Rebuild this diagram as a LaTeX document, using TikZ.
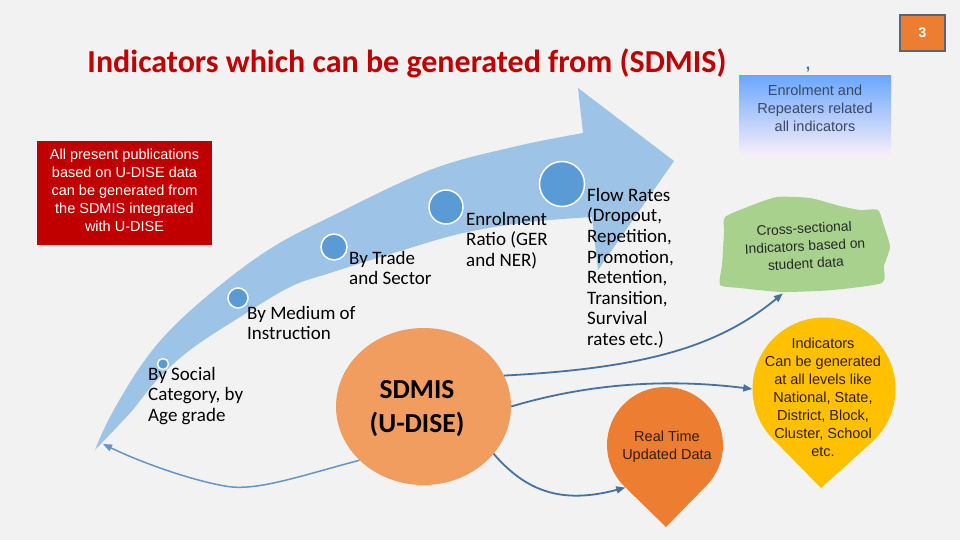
\documentclass[tikz,border=0pt]{standalone}
\usepackage{fontspec}
\setmainfont{Carlito}
\newfontfamily\arial{Liberation Sans}
\usetikzlibrary{shapes.geometric,arrows.meta,calc}
\definecolor{bg}{RGB}{242,242,242}
\definecolor{titlered}{RGB}{192,0,0}
\definecolor{boxred}{RGB}{192,0,0}
\definecolor{bandblue}{RGB}{157,195,230}
\definecolor{dotblue}{RGB}{91,155,213}
\definecolor{connblue}{RGB}{70,114,158}
\definecolor{connlight}{RGB}{100,148,200}
\definecolor{sdorange}{RGB}{240,157,95}
\definecolor{rtorange}{RGB}{237,125,49}
\definecolor{ylgold}{RGB}{255,192,0}
\definecolor{csgreen}{RGB}{169,209,142}
\definecolor{enrtop}{RGB}{106,168,255}
\definecolor{enrmid}{RGB}{180,202,232}
\definecolor{enrbot}{RGB}{248,238,248}
\definecolor{enrtext}{RGB}{60,72,95}
\definecolor{pgborder}{RGB}{90,100,115}
\definecolor{darktext}{RGB}{50,30,10}
\begin{document}
\begin{tikzpicture}[x=1pt,y=-1pt,
  lbl/.style={anchor=north west, align=left, inner sep=0, font=\fontsize{19}{20.6}\selectfont},
  dot/.style={circle, fill=dotblue, draw=white, line width=1.5pt, inner sep=0},
  conn/.style={draw=connblue, line width=1.8pt, -{Triangle[length=9pt,width=7pt]}},
  aria/.style={font=\arial\fontsize{14.5}{18}\selectfont, align=center, inner sep=0}]
\useasboundingbox (0,0) rectangle (960,540);
\fill[bg] (0,0) rectangle (960,540);

% title
\node[anchor=base, inner sep=0, text=titlered, font=\bfseries\fontsize{32}{38}\selectfont] (title) at (407,73) {Indicators which can be generated from (SDMIS)};

% page number
\node[draw=pgborder, line width=2pt, fill=rtorange, minimum width=45, minimum height=36, inner sep=0, text=white, font=\arial\bfseries\fontsize{14}{16}\selectfont] (pg) at (922.5,33) {3};

% stray comma
\node[inner sep=0, text=connblue, font=\arial\bfseries\fontsize{16}{18}\selectfont] (comma) at (808,70) {,};

% enrolment box
\shade[top color=enrtop, middle color=enrmid, bottom color=enrbot] (739,76) rectangle (891,155);
\node[aria, text=enrtext] (enr) at (815,108) {Enrolment and\\Repeaters related\\all indicators};

% red box
\node[fill=boxred, minimum width=175, minimum height=104, inner sep=0] (pubbox) at (124.5,193) {};
\node[aria, text=white] (pub) at (124.5,190) {All present publications\\based on U-DISE data\\can be generated from\\the SDMIS integrated\\with U-DISE};

% big curved arrow
\fill[bandblue] plot[smooth, tension=0.6] coordinates {(95,450) (110,417) (140,367) (173,327) (223,283) (273,247) (330,217) (430,170) (513,147) (583,133)}
  -- (578,88) -- (674,161) -- (598,270) -- (592,217)
  -- plot[smooth, tension=0.6] coordinates {(592,217) (530,222) (463,233) (397,252) (330,273) (290,287) (240,317) (190,350) (157,380) (130,413) (95,450)} -- cycle;

% dots
\node[dot, minimum size=11] (d1) at (163,364) {};
\node[dot, minimum size=20] (d2) at (238,298) {};
\node[dot, minimum size=26] (d3) at (334,247) {};
\node[dot, minimum size=34] (d4) at (446,207) {};
\node[dot, minimum size=45] (d5) at (562,184) {};

% labels
\node[lbl] (l1) at (148,367) {By Social\\Category, by\\Age grade};
\node[lbl] (l2) at (247,306) {By Medium of\\Instruction};
\node[lbl] (l3) at (349,251) {By Trade\\and Sector};
\node[lbl] (l4) at (466,212) {Enrolment\\Ratio (GER\\and NER)};
\node[lbl] (l5) at (587,188) {Flow Rates\\(Dropout,\\Repetition,\\Promotion,\\Retention,\\Transition,\\Survival\\rates etc.)};

% SDMIS
\node[ellipse, fill=sdorange, minimum width=175, minimum height=157, inner sep=0] (sd) at (423.5,406.5) {};
\node[inner sep=0, align=center, font=\bfseries\fontsize{27.5}{34}\selectfont] (sdt) at (417,408.5) {SDMIS\\(U-DISE)};

% real time teardrop
\fill[rtorange] (666,527) -- ($(665,445)+(44.3:58)$) arc[start angle=44.3, end angle=-225.7, radius=58] -- cycle;
\node[circle, minimum size=116, inner sep=0] (rt) at (665,445) {};
\node[aria, text=darktext] (rtt) at (667,447) {Real Time\\Updated Data};

% yellow teardrop
\fill[ylgold] (821,488) -- ($(824,389)+(47.9:71.5)$) arc[start angle=47.9, end angle=-224.5, radius=71.5] -- cycle;
\node[circle, minimum size=143, inner sep=0] (yl) at (824,389) {};
\node[aria, text=darktext] (ylt) at (823,397) {Indicators\\Can be generated\\at all levels like\\National, State,\\District, Block,\\Cluster, School\\etc.};

% green cross-sectional shape
\fill[csgreen] plot[smooth cycle, tension=0.35] coordinates {(725,217) (750,206) (777,197) (810,198) (840,206) (860,210) (878,210) (884,226) (890,247) (884,266) (882,283) (833,290) (782,292) (740,288) (720,285) (722,265) (723,250) (724,232)};
\node[aria, rotate=3, minimum width=165, minimum height=92, font=\arial\fontsize{13.8}{17.6}\selectfont, text=black!85] (cs) at (805,246) {Cross-sectional\\Indicators based on\\student data};

% connectors
\coordinate (tail) at (103,444);
\draw[conn, draw=connlight, line width=1.5pt] (sd.220) .. controls (300,476) and (255,492) .. (225,486) .. controls (190,480) and (140,462) .. (tail);
\draw[conn] (sd.21) .. controls (650,368) and (720,345) .. (cs.242);
\draw[conn] (sd.0) .. controls (560,392) and (640,375) .. (yl.180);
\draw[conn] (sd.-34) .. controls (525,490) and (560,505) .. (rt.227);
\end{tikzpicture}
\end{document}
